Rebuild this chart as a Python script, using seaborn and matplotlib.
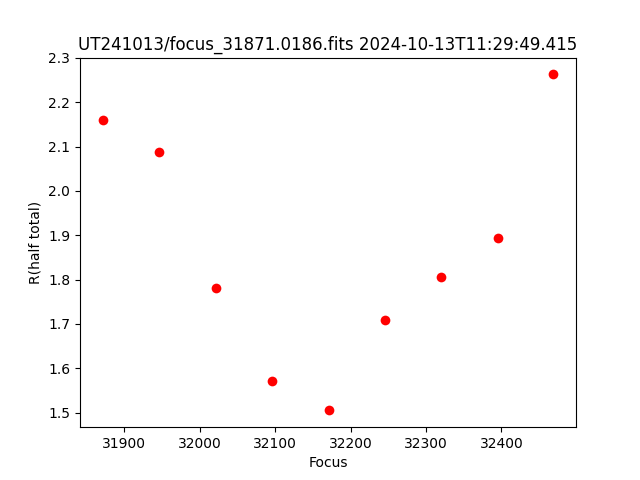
import matplotlib
matplotlib.use('Agg')
import matplotlib.pyplot as plt
import seaborn as sns
import pandas as pd

focus = [31871, 31946, 32021, 32096, 32171, 32246, 32320, 32395, 32469]
r_half = [2.161, 2.087, 1.781, 1.571, 1.505, 1.708, 1.805, 1.895, 2.263]
title = 'UT241013/focus_31871.0186.fits 2024-10-13T11:29:49.415'

df = pd.DataFrame({'Focus': focus, 'R(half total)': r_half})

fig, ax = plt.subplots(figsize=(6.4, 4.8), dpi=100)
sns.scatterplot(data=df, x='Focus', y='R(half total)', color='red',
                s=49, linewidth=0, ax=ax)
ax.set_title(title)
ax.set_xlabel('Focus')
ax.set_ylabel('R(half total)')
fig.savefig('out.png')
